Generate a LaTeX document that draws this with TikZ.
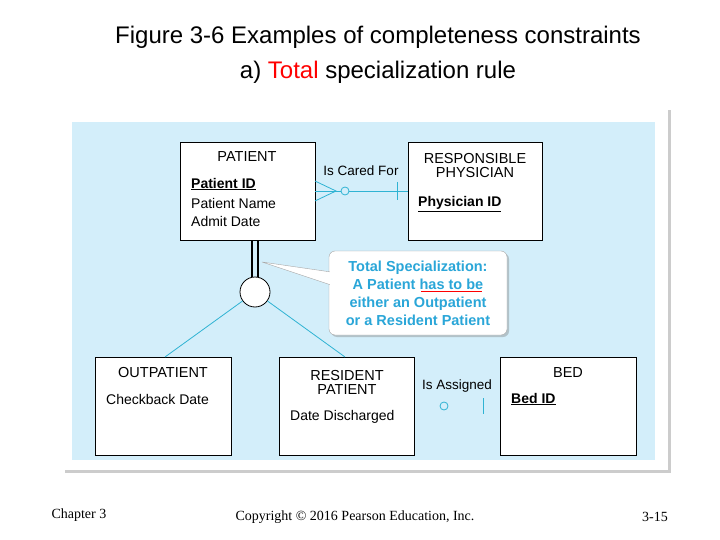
\documentclass[tikz,border=0pt]{standalone}
\usepackage{fontspec}
\setmainfont{Liberation Serif}
\setsansfont{Liberation Sans}
\usetikzlibrary{shadows}
\definecolor{panel}{HTML}{D3EEFA}
\definecolor{erline}{HTML}{2FB3D3}
\definecolor{calltext}{HTML}{2AA6D8}
\tikzset{
  entity/.style={draw=black, fill=white, line width=0.8pt},
  title/.style={font=\sffamily\fontsize{24}{27}\selectfont},
  ent/.style={font=\sffamily\fontsize{14.5}{17}\selectfont, align=center},
  attr/.style={font=\sffamily\fontsize{14}{17}\selectfont, anchor=west, inner sep=0pt},
  rel/.style={draw=erline, line width=0.8pt},
  foot/.style={font=\fontsize{14}{16}\selectfont}
}
\begin{document}
\begin{tikzpicture}[x=1pt,y=-1pt]
\useasboundingbox (0,0) rectangle (720,540);
\fill[white] (0,0) rectangle (720,540);
% frame
\fill[white, drop shadow={shadow xshift=3pt, shadow yshift=-3pt, opacity=0.4}] (62,107) rectangle (668,470);
\fill[panel] (72,122) rectangle (655,460);
% title
\node[title] (t1) at (378,37) {Figure 3-6 Examples of completeness constraints};
\node[title] (t2) at (378,72) {a) \textcolor{red}{Total} specialization rule};
% entities
\draw[entity] (180,142) rectangle (315,240);
\node[ent] (patient) at (247,157) {PATIENT};
\node[attr] (pid) at (191,184) {\bfseries\underline{Patient ID}};
\node[attr] (pname) at (191,203) {Patient Name};
\node[attr] (pdate) at (191,221) {Admit Date};
\draw[entity] (408,142) rectangle (542,240);
\node[ent] (phys) at (475,166) {RESPONSIBLE\\[-3pt]PHYSICIAN};
\node[attr] (phid) at (418,204) {\bfseries\underline{Physician ID}};
\draw[entity] (95,357) rectangle (231,455);
\node[ent] (outp) at (163,373) {OUTPATIENT};
\node[attr] (chk) at (106,399) {Checkback Date};
\draw[entity] (279,357) rectangle (414,455);
\node[ent] (resp) at (347,382) {RESIDENT\\[-3pt]PATIENT};
\node[attr] (dis) at (290,417) {Date Discharged};
\draw[entity] (500,357) rectangle (636,455);
\node[ent] (bed) at (568,373) {BED};
\node[attr] (bid) at (511,399) {\bfseries\underline{Bed ID}};
% is cared for
\coordinate (cf1) at (315,191);
\coordinate (cf2) at (408,191);
\draw[rel] (cf1) -- (cf2);
\draw[rel] (315,181) -- (336,191) -- (315,201);
\draw[rel, fill=panel] (345,191) circle (4);
\draw[rel] (397,182) -- (397,200);
\node[font=\sffamily\fontsize{13.5}{15}\selectfont] (caredfor) at (361,171) {Is Cared For};
% is assigned
\node[font=\sffamily\fontsize{13.5}{15}\selectfont] (assigned) at (457,386) {Is Assigned};
\draw[rel] (444,406) circle (4);
\draw[rel] (483,398) -- (483,414);
% specialization
\node[circle, draw=black, fill=white, line width=0.8pt, minimum size=30pt, inner sep=0pt] (isa) at (255,292) {};
\draw[black, line width=1.6pt] (252,240) -- (252,277);
\draw[black, line width=1.6pt] (258,240) -- (258,277);
\draw[rel] (isa) -- (165,357);
\draw[rel] (isa) -- (345,357);
% callout
\fill[white, draw=gray!70, drop shadow={shadow xshift=2pt, shadow yshift=-2pt, opacity=0.4}, rounded corners=6pt] (329,251) rectangle (507,335);
\fill[white, draw=gray!70] (331,272) -- (262,262) -- (331,285);
\fill[white] (330,271) rectangle (334,286);
\node[font=\sffamily\bfseries\fontsize{14.5}{18}\selectfont, text=calltext, align=center] (note) at (418,293) {Total Specialization:\\A Patient has to be\\either an Outpatient\\or a Resident Patient};
\draw[red, line width=0.6pt] (421,291) -- (482,291);
% footer
\node[foot, anchor=west] (chap) at (48,515) {Chapter 3};
\node[foot] (copy) at (355,517) {Copyright © 2016 Pearson Education, Inc.};
\node[foot] (page) at (655,517) {3-15};
\end{tikzpicture}
\end{document}
